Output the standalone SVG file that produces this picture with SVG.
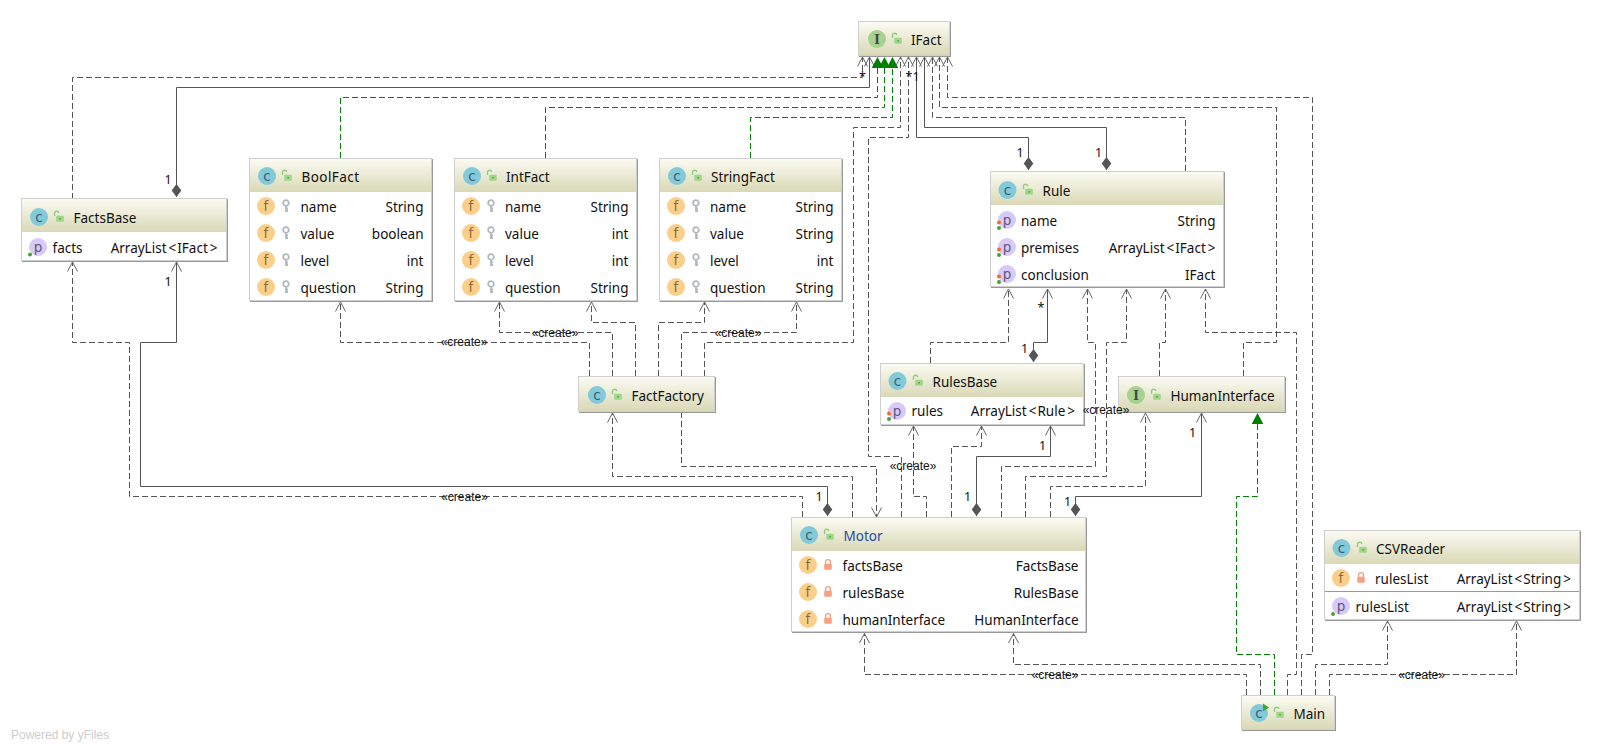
<svg xmlns="http://www.w3.org/2000/svg" width="1601" height="751" viewBox="0 0 1601 751">
<style>
text{font-family:"Noto Sans","DejaVu Sans",sans-serif;font-size:13.5px;fill:#111}
.t{text-anchor:end}
.lbl{font-family:"Liberation Sans",Arial,sans-serif;font-size:12px;text-anchor:middle;fill:#111}
.m{font-family:"Noto Sans",sans-serif;font-size:12.5px;text-anchor:middle;fill:#111}
.ic{font-family:"DejaVu Sans",sans-serif;font-size:13.5px;text-anchor:middle}
.ii{font-family:"DejaVu Serif",serif;font-size:12px;font-weight:bold;text-anchor:middle;fill:#444}
.cc{fill:#3c5f6b}
.ff{fill:#8a6d3b}
.pp{fill:#5d5a78}
.box{fill:#fff;stroke:#cfcfcf;stroke-width:1}
.sh{fill:#999}
.hd{fill:url(#hg)}
.dash,.sol,.gr{fill:none;stroke-width:1}
.dash{stroke:#555;stroke-dasharray:6 3;marker-end:url(#open)}
.sol{stroke:#555;marker-start:url(#dia);marker-end:url(#open)}
.gr{stroke:#008000;stroke-dasharray:6 3;marker-end:url(#tri)}
</style>
<defs>
<linearGradient id="hg" x1="0" y1="0" x2="0" y2="1"><stop offset="0" stop-color="#fbfbf3"/><stop offset="1" stop-color="#d9d8b6"/></linearGradient>
<marker id="open" markerUnits="userSpaceOnUse" markerWidth="14" markerHeight="14" refX="12" refY="7" orient="auto"><path d="M2.5,2 L12,7 L2.5,12" fill="none" stroke="#666" stroke-width="1"/></marker>
<marker id="tri" markerUnits="userSpaceOnUse" markerWidth="14" markerHeight="14" refX="12" refY="7" orient="auto"><path d="M1,1.2 L12,7 L1,12.8 Z" fill="#008000"/></marker>
<marker id="dia" markerUnits="userSpaceOnUse" markerWidth="16" markerHeight="12" refX="1" refY="6" orient="auto"><path d="M1,6 L7.5,1.2 L14,6 L7.5,10.8 Z" fill="#555"/></marker>
<g id="lk"><path d="M-4.5,-1 V-4 A2.2,2.2 0 0 1 -0.2,-4" fill="none" stroke="#8fcf78" stroke-width="1.4"/><rect x="-2.8" y="-1.2" width="7.6" height="6" rx="1" fill="#9ed68a"/><rect x="0.3" y="1" width="1.6" height="1.6" fill="#5fa548"/></g>
<g id="rl"><path d="M-2.4,-1 V-3 A2.4,2.4 0 0 1 2.4,-3 V-1" fill="none" stroke="#f4a184" stroke-width="1.4"/><rect x="-3.8" y="-1.2" width="7.6" height="6" rx="1" fill="#f4a184"/></g>
<g id="ky"><circle cx="0" cy="-3" r="2.8" fill="none" stroke="#b0b8be" stroke-width="1.8"/><path d="M0,-0.5 V6 M0,2.5 H2 M0,5 H2" stroke="#b0b8be" stroke-width="1.8" fill="none"/></g>
<circle id="cC" r="9" fill="#82c9d9"/>
<circle id="cI" r="9" fill="#a6d18e"/>
<circle id="cF" r="9" fill="#fbcf8a"/>
<circle id="cP" r="9" fill="#d9c9f8"/>
</defs>

<g id="connectors">
<path class="dash" d="M72.5,199V77.5H862.5V57"/>
<path class="sol" d="M176.5,197V87.5H869.5V57"/>
<path class="gr" d="M340.5,158V97.5H877.5V57"/>
<path class="gr" d="M545.5,158V107.5H884.5V57"/>
<path class="gr" d="M750.5,158V117.5H892.5V57"/>
<path class="dash" d="M704.5,376V342.5H853.5V127.5H900.5V57"/>
<path class="dash" d="M901.5,517V456.5H868.5V137.5H908.5V57"/>
<path class="sol" d="M1028.5,170V137.5H916.5V57"/>
<path class="sol" d="M1106.5,170V127.5H924.5V57"/>
<path class="dash" d="M1185.5,171V117.5H932.5V57"/>
<path class="dash" d="M1243.5,376V342.5H1276.5V107.5H939.5V57"/>
<path class="dash" d="M1301.5,695V654.5H1312.5V97.5H947.5V57"/>
<path class="dash" d="M1287.5,695V674.5H1296.5V332.5H1205.5V289"/>
<path class="dash" d="M1246.5,695V674.5H864.5V633.5"/>
<path class="dash" d="M1260.5,695V664.5H1013.5V633.5"/>
<path class="gr" d="M1274.5,695V654.5H1236.5V496.5H1257.5V413"/>
<path class="dash" d="M1315.5,695V664.5H1387.5V621"/>
<path class="dash" d="M1329.5,695V674.5H1516.5V621"/>
<path class="dash" d="M802.5,517V496.5H129.5V342.5H72.5V262"/>
<path class="sol" d="M827.5,516V486.5H140.5V342.5H176.5V262"/>
<path class="dash" d="M589.5,376V342.5H340.5V302"/>
<path class="dash" d="M612.5,376V332.5H499.5V302"/>
<path class="dash" d="M635.5,376V322.5H591.5V302"/>
<path class="dash" d="M658.5,376V322.5H704.5V302"/>
<path class="dash" d="M681.5,376V332.5H796.5V302"/>
<path class="dash" d="M681.5,412V466.5H876.5V517"/>
<path class="dash" d="M852.5,517V476.5H612.5V413"/>
<path class="dash" d="M926.5,517V496.5H913.5V426"/>
<path class="dash" d="M951.5,517V446.5H981.5V426"/>
<path class="sol" d="M976.5,516V456.5H1050.5V426"/>
<path class="dash" d="M1001.5,517V466.5H1095.5V342.5H1087.5V289"/>
<path class="dash" d="M1025.5,517V476.5H1106.5V342.5H1126.5V289"/>
<path class="dash" d="M1050.5,517V486.5H1145.5V413"/>
<path class="sol" d="M1075.5,516V496.5H1201.5V413"/>
<path class="dash" d="M930.5,363V342.5H1008.5V289"/>
<path class="sol" d="M1033.5,362V342.5H1047.5V289"/>
<path class="dash" d="M1159.5,376V342.5H1165.5V289"/>
</g>

<g id="IFact">
<rect class="sh" x="859" y="22" width="92" height="35"/><rect class="box" x="858.5" y="21.5" width="91" height="34"/><rect class="hd" x="859" y="22" width="90" height="33"/>
<use href="#cI" x="877" y="39"/><text class="ii" x="877" y="43.5">I</text><use href="#lk" x="897" y="39"/><text x="911" y="44.5">IFact</text>
</g>

<g id="FactsBase">
<rect class="sh" x="22" y="199" width="206" height="63"/><rect class="box" x="21.5" y="198.5" width="205" height="62"/><rect class="hd" x="22" y="199" width="204" height="33"/>
<use href="#cC" x="39" y="217"/><text class="ic cc" x="39" y="221.5">c</text><use href="#lk" x="59" y="217"/><text x="73.5" y="222.5">FactsBase</text>
<use href="#cP" x="38" y="247"/><text class="ic pp" x="38" y="251.5">p</text><circle cx="30" cy="254.5" r="2" fill="#3fa535"/><text x="52.5" y="252.5">facts</text><text class="t" x="217.5" y="252.5">ArrayList<tspan dx="2">&lt;</tspan><tspan dx="1">IFact</tspan><tspan dx="2">&gt;</tspan></text>
</g>

<g id="BoolFact">
<rect class="sh" x="250" y="159" width="183" height="143"/><rect class="box" x="249.5" y="158.5" width="182" height="142"/><rect class="hd" x="250" y="159" width="181" height="33"/>
<use href="#cC" x="267" y="176"/><text class="ic cc" x="267" y="180.5">c</text><use href="#lk" x="287" y="176"/><text x="301.5" y="181.5" textLength="57.5">BoolFact</text>
<use href="#cF" x="266" y="206"/><text class="ic ff" x="266" y="211">f</text><use href="#ky" x="286" y="206"/><text x="300.5" y="211.5">name</text><text class="t" x="423.5" y="211.5">String</text>
<use href="#cF" x="266" y="233"/><text class="ic ff" x="266" y="238">f</text><use href="#ky" x="286" y="233"/><text x="300.5" y="238.5">value</text><text class="t" x="423.5" y="238.5">boolean</text>
<use href="#cF" x="266" y="260"/><text class="ic ff" x="266" y="265">f</text><use href="#ky" x="286" y="260"/><text x="300.5" y="265.5">level</text><text class="t" x="423.5" y="265.5">int</text>
<use href="#cF" x="266" y="287"/><text class="ic ff" x="266" y="292">f</text><use href="#ky" x="286" y="287"/><text x="300.5" y="292.5">question</text><text class="t" x="423.5" y="292.5">String</text>
</g>

<g id="IntFact">
<rect class="sh" x="455" y="159" width="183" height="143"/><rect class="box" x="454.5" y="158.5" width="182" height="142"/><rect class="hd" x="455" y="159" width="181" height="33"/>
<use href="#cC" x="472" y="176"/><text class="ic cc" x="472" y="180.5">c</text><use href="#lk" x="492" y="176"/><text x="506" y="181.5">IntFact</text>
<use href="#cF" x="471" y="206"/><text class="ic ff" x="471" y="211">f</text><use href="#ky" x="491" y="206"/><text x="505" y="211.5">name</text><text class="t" x="628.5" y="211.5">String</text>
<use href="#cF" x="471" y="233"/><text class="ic ff" x="471" y="238">f</text><use href="#ky" x="491" y="233"/><text x="505" y="238.5">value</text><text class="t" x="628.5" y="238.5">int</text>
<use href="#cF" x="471" y="260"/><text class="ic ff" x="471" y="265">f</text><use href="#ky" x="491" y="260"/><text x="505" y="265.5">level</text><text class="t" x="628.5" y="265.5">int</text>
<use href="#cF" x="471" y="287"/><text class="ic ff" x="471" y="292">f</text><use href="#ky" x="491" y="287"/><text x="505" y="292.5">question</text><text class="t" x="628.5" y="292.5">String</text>
</g>

<g id="StringFact">
<rect class="sh" x="660" y="159" width="183" height="143"/><rect class="box" x="659.5" y="158.5" width="182" height="142"/><rect class="hd" x="660" y="159" width="181" height="33"/>
<use href="#cC" x="677" y="176"/><text class="ic cc" x="677" y="180.5">c</text><use href="#lk" x="697" y="176"/><text x="711" y="181.5">StringFact</text>
<use href="#cF" x="676" y="206"/><text class="ic ff" x="676" y="211">f</text><use href="#ky" x="696" y="206"/><text x="710" y="211.5">name</text><text class="t" x="833.5" y="211.5">String</text>
<use href="#cF" x="676" y="233"/><text class="ic ff" x="676" y="238">f</text><use href="#ky" x="696" y="233"/><text x="710" y="238.5">value</text><text class="t" x="833.5" y="238.5">String</text>
<use href="#cF" x="676" y="260"/><text class="ic ff" x="676" y="265">f</text><use href="#ky" x="696" y="260"/><text x="710" y="265.5">level</text><text class="t" x="833.5" y="265.5">int</text>
<use href="#cF" x="676" y="287"/><text class="ic ff" x="676" y="292">f</text><use href="#ky" x="696" y="287"/><text x="710" y="292.5">question</text><text class="t" x="833.5" y="292.5">String</text>
</g>

<g id="Rule">
<rect class="sh" x="991" y="172" width="234" height="116"/><rect class="box" x="990.5" y="171.5" width="233" height="115"/><rect class="hd" x="991" y="172" width="232" height="33"/>
<use href="#cC" x="1007.5" y="190"/><text class="ic cc" x="1007.5" y="194.5">c</text><use href="#lk" x="1028" y="190"/><text x="1042.5" y="195.5">Rule</text>
<use href="#cP" x="1007" y="220"/><text class="ic pp" x="1007" y="224.5">p</text><circle cx="999" cy="222.5" r="2" fill="#f26b2a"/><circle cx="999" cy="228" r="2" fill="#3fa535"/><text x="1021" y="225.5">name</text><text class="t" x="1215.5" y="225.5">String</text>
<use href="#cP" x="1007" y="247"/><text class="ic pp" x="1007" y="251.5">p</text><circle cx="999" cy="249.5" r="2" fill="#f26b2a"/><circle cx="999" cy="255" r="2" fill="#3fa535"/><text x="1021" y="252.5">premises</text><text class="t" x="1215.5" y="252.5">ArrayList<tspan dx="2">&lt;</tspan><tspan dx="1">IFact</tspan><tspan dx="2">&gt;</tspan></text>
<use href="#cP" x="1007" y="274"/><text class="ic pp" x="1007" y="278.5">p</text><circle cx="999" cy="276.5" r="2" fill="#f26b2a"/><circle cx="999" cy="282" r="2" fill="#3fa535"/><text x="1021" y="279.5">conclusion</text><text class="t" x="1215.5" y="279.5">IFact</text>
</g>

<g id="RulesBase">
<rect class="sh" x="881" y="364" width="204" height="62"/><rect class="box" x="880.5" y="363.5" width="203" height="61"/><rect class="hd" x="881" y="364" width="202" height="33"/>
<use href="#cC" x="897.5" y="381"/><text class="ic cc" x="897.5" y="385.5">c</text><use href="#lk" x="918" y="381"/><text x="932.5" y="386.5">RulesBase</text>
<use href="#cP" x="897" y="411"/><text class="ic pp" x="897" y="415.5">p</text><circle cx="889" cy="413.5" r="2" fill="#f26b2a"/><circle cx="889" cy="419" r="2" fill="#3fa535"/><text x="911.5" y="416">rules</text><text class="t" x="1075" y="416">ArrayList<tspan dx="2">&lt;</tspan><tspan dx="1">Rule</tspan><tspan dx="2">&gt;</tspan></text>
</g>

<g id="FactFactory">
<rect class="sh" x="579" y="377" width="137" height="36"/><rect class="box" x="578.5" y="376.5" width="136" height="35"/><rect class="hd" x="579" y="377" width="135" height="34"/>
<use href="#cC" x="597" y="395"/><text class="ic cc" x="597" y="399.5">c</text><use href="#lk" x="617" y="395"/><text x="631.5" y="400.5">FactFactory</text>
</g>

<g id="HumanInterface">
<rect class="sh" x="1119" y="377" width="167" height="36"/><rect class="box" x="1118.5" y="376.5" width="166" height="35"/><rect class="hd" x="1119" y="377" width="165" height="34"/>
<use href="#cI" x="1136" y="395"/><text class="ii" x="1136" y="399.5">I</text><use href="#lk" x="1156" y="395"/><text x="1170.5" y="400.5">HumanInterface</text>
</g>

<g id="Motor">
<rect class="sh" x="792" y="518" width="295" height="115"/><rect class="box" x="791.5" y="517.5" width="294" height="114"/><rect class="hd" x="792" y="518" width="293" height="33"/>
<use href="#cC" x="809" y="535"/><text class="ic cc" x="809" y="539.5">c</text><use href="#lk" x="829" y="535"/><text x="843.5" y="540.5" style="fill:#2a4aa8">Motor</text>
<use href="#cF" x="808" y="565"/><text class="ic ff" x="808" y="570">f</text><use href="#rl" x="828" y="565"/><text x="842.5" y="570.5">factsBase</text><text class="t" x="1078.5" y="570.5">FactsBase</text>
<use href="#cF" x="808" y="592"/><text class="ic ff" x="808" y="597">f</text><use href="#rl" x="828" y="592"/><text x="842.5" y="597.5">rulesBase</text><text class="t" x="1078.5" y="597.5">RulesBase</text>
<use href="#cF" x="808" y="619"/><text class="ic ff" x="808" y="624">f</text><use href="#rl" x="828" y="619"/><text x="842.5" y="624.5">humanInterface</text><text class="t" x="1078.5" y="624.5">HumanInterface</text>
</g>

<g id="CSVReader">
<rect class="sh" x="1325" y="531" width="256" height="90"/><rect class="box" x="1324.5" y="530.5" width="255" height="89"/><rect class="hd" x="1325" y="531" width="254" height="33"/>
<use href="#cC" x="1341.5" y="548"/><text class="ic cc" x="1341.5" y="552.5">c</text><use href="#lk" x="1362" y="548"/><text x="1376" y="553.5">CSVReader</text>
<use href="#cF" x="1341" y="578"/><text class="ic ff" x="1341" y="583">f</text><use href="#rl" x="1361" y="578"/><text x="1375" y="583.5">rulesList</text><text class="t" x="1571" y="583.5">ArrayList<tspan dx="2">&lt;</tspan><tspan dx="1">String</tspan><tspan dx="2">&gt;</tspan></text>
<path d="M1325,591.5H1579" stroke="#999" fill="none"/>
<use href="#cP" x="1341" y="606"/><text class="ic pp" x="1341" y="610.5">p</text><circle cx="1333" cy="614" r="2" fill="#3fa535"/><text x="1355.5" y="611.5">rulesList</text><text class="t" x="1571" y="611.5">ArrayList<tspan dx="2">&lt;</tspan><tspan dx="1">String</tspan><tspan dx="2">&gt;</tspan></text>
</g>

<g id="Main">
<rect class="sh" x="1242" y="696" width="94" height="35"/><rect class="box" x="1241.5" y="695.5" width="93" height="34"/><rect class="hd" x="1242" y="696" width="92" height="33"/>
<use href="#cC" x="1259" y="713"/><text class="ic cc" x="1259" y="717.5">c</text><path d="M1263,703.5 L1269,707.5 L1263,711.5 Z" fill="#3fa535"/><use href="#lk" x="1279" y="713"/><text x="1293.5" y="718.5">Main</text>
</g>

<g id="connector-labels">
<text class="lbl" x="464" y="346">«create»</text>
<text class="lbl" x="555" y="337">«create»</text>
<text class="lbl" x="738" y="337">«create»</text>
<text class="lbl" x="464.5" y="501">«create»</text>
<text class="lbl" x="913" y="470">«create»</text>
<text class="lbl" x="1106" y="414">«create»</text>
<text class="lbl" x="1055" y="679">«create»</text>
<text class="lbl" x="1421.5" y="679">«create»</text>
<text class="m" x="168" y="184">1</text>
<text class="m" x="168" y="286">1</text>
<text class="m" x="862.5" y="81">*</text>
<text class="m" x="909" y="81">*</text>
<text class="m" x="916" y="81">1</text>
<text class="m" x="1020" y="157">1</text>
<text class="m" x="1098.5" y="157">1</text>
<text class="m" x="1041" y="312">*</text>
<text class="m" x="1024.5" y="353">1</text>
<text class="m" x="1042.5" y="450">1</text>
<text class="m" x="967.5" y="501">1</text>
<text class="m" x="1192.5" y="437">1</text>
<text class="m" x="1067.5" y="506">1</text>
<text class="m" x="819" y="501">1</text>
</g>

<text x="11" y="739" style="font-family:'Liberation Sans',Arial,sans-serif;font-size:12px;fill:#cdcdcd">Powered by yFiles</text>
</svg>
